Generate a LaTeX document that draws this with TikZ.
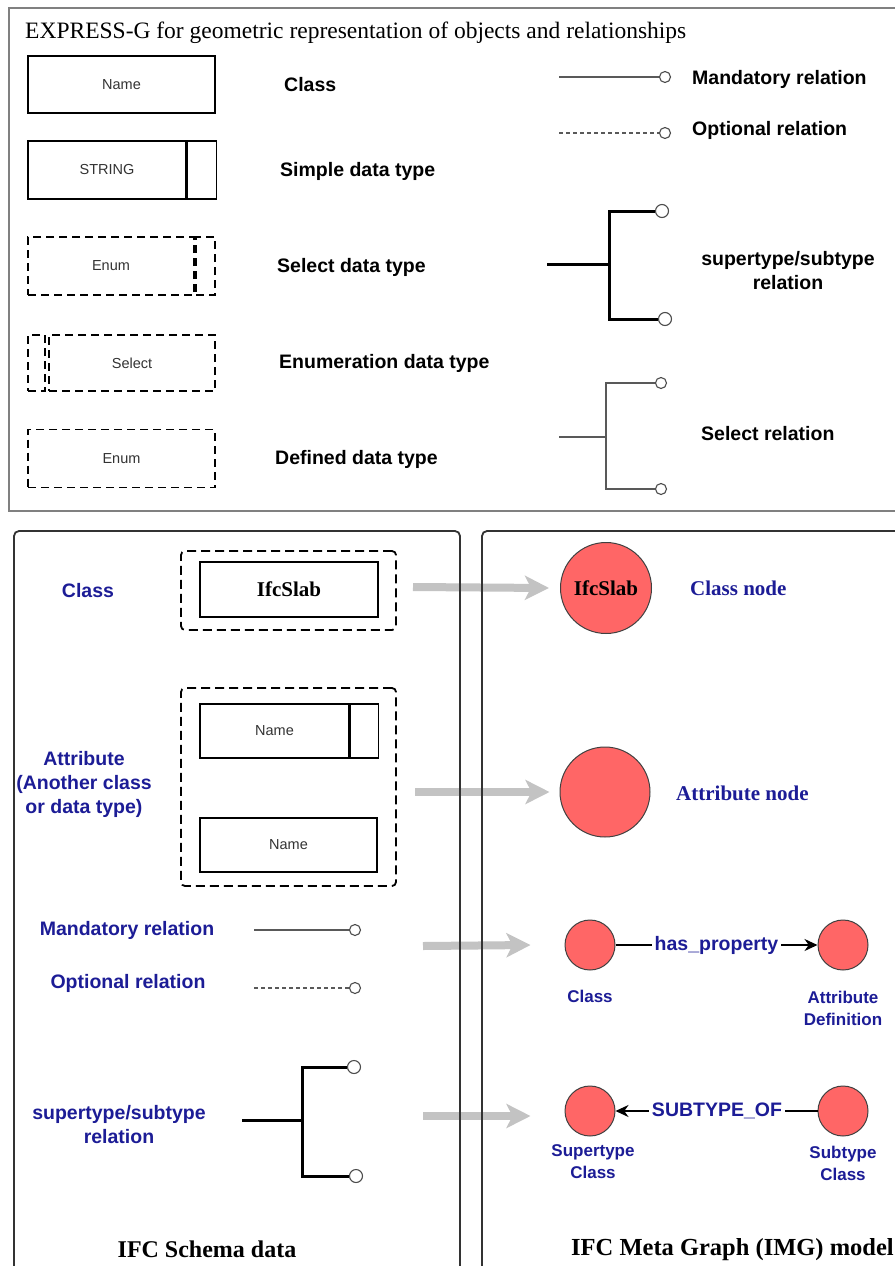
\documentclass[tikz,border=0pt]{standalone}
\usepackage{fontspec}
\setmainfont{Liberation Serif}
\newfontfamily\arialfont{Liberation Sans}
\usetikzlibrary{arrows.meta}
\definecolor{navyblue}{HTML}{1C1C96}
\definecolor{nodered}{HTML}{FF6666}
\definecolor{arrowgray}{HTML}{C3C3C3}

\begin{document}
\begin{tikzpicture}
  [x=1pt,y=-1pt,every node/.style={inner sep=0pt},
   sbox/.style={draw,line width=1.6pt,font=\arialfont\fontsize{14.5}{17}\selectfont,text=black!80},
   dbox/.style={sbox,dash pattern=on 8pt off 5pt},
   grp/.style={draw,line width=1.8pt,dash pattern=on 9pt off 5pt,rounded corners=4pt},
   legend/.style={font=\arialfont\bfseries\fontsize{19.5}{24}\selectfont,align=center},
   bluelabel/.style={legend,text=navyblue},
   nodelabel/.style={font=\arialfont\bfseries\fontsize{17}{22}\selectfont,align=center,text=navyblue},
   serif/.style={font=\bfseries\fontsize{21}{25}\selectfont,text=black},
   ring/.style={circle,draw=black!70,fill=white,line width=1.1pt,minimum size=11pt},
   bigring/.style={ring,minimum size=13pt},
   thin/.style={draw=black!65,line width=1.2pt},
   bar/.style={draw=black,line width=3pt},
   gnode/.style={circle,draw=black!75,fill=nodered,line width=1pt},
   feed/.style={draw=arrowgray,line width=8pt,-{Stealth[length=24pt,width=24pt,inset=6pt]}},
   link/.style={draw=black,line width=1.6pt},
   frame/.style={draw=black!80,line width=1.8pt,rounded corners=5pt}]
  \useasboundingbox (0,0) rectangle (894,1266);
  \fill[white] (0,0) rectangle (894,1266);

  % EXPRESS-G legend
  \node[anchor=base west,font=\fontsize{23.5}{27}\selectfont] (title) at (25,38)
    {EXPRESS-G for geometric representation of objects and relationships};
  \node[sbox,minimum width=187pt,minimum height=57pt] (cname) at (121.5,84.5) {Name};
  \node[sbox,minimum width=158pt,minimum height=58pt] (str) at (107,170) {STRING};
  \node[sbox,minimum width=29pt,minimum height=58pt,anchor=west] (strx) at (str.east) {};
  \node[dbox,minimum width=166pt,minimum height=58pt] (enum) at (111,266) {Enum};
  \node[dbox,minimum width=19pt,minimum height=58pt] (enumx) at (205.5,266) {};
  \node[dbox,minimum width=17pt,minimum height=56pt] (selx) at (36.5,363) {};
  \node[dbox,minimum width=166pt,minimum height=56pt] (sel) at (132,363) {Select};
  \node[dbox,minimum width=187pt,minimum height=58pt] (defd) at (121.5,458.5) {Enum};

  \node[legend,anchor=west] (lcls) at (284,85) {Class};
  \node[legend,anchor=west] (lsimple) at (280,171) {Simple data type};
  \node[legend,anchor=west] (lselect) at (277,267) {Select data type};
  \node[legend,anchor=west] (lenum) at (279,363) {Enumeration data type};
  \node[legend,anchor=west] (ldef) at (275,459) {Defined data type};

  \coordinate (mand) at (559,77);
  \node[ring] (mandr) at (665,77) {};
  \draw[thin] (mand) -- (mandr);
  \coordinate (opt) at (559,133);
  \node[ring] (optr) at (665,133) {};
  \draw[thin,dash pattern=on 4pt off 3pt] (opt) -- (optr);
  \node[legend,anchor=west] (lmand) at (692,79) {Mandatory relation};
  \node[legend,anchor=west] (lopt) at (692,130) {Optional relation};

  \coordinate (sst) at (547,264);
  \coordinate (ssj) at (609,264);
  \node[bigring] (ssa) at (662,211) {};
  \node[bigring] (ssb) at (665,319) {};
  \draw[bar] (sst) -- (ssj);
  \draw[bar] (ssa) -| (ssj) |- (ssb);
  \node[legend] (lsup) at (788,270.5) {supertype/subtype\\relation};

  \coordinate (slt) at (559,437);
  \coordinate (slj) at (606,437);
  \node[ring] (sla) at (661,383) {};
  \node[ring] (slb) at (661,489) {};
  \draw[thin] (slt) -- (slj);
  \draw[thin] (sla) -| (slj) |- (slb);
  \node[legend,anchor=west] (lsel) at (701,434) {Select relation};

  \draw[line width=1.5pt,draw=black!50] (905,8) -- (9,8) -- (9,511) -- (905,511);

  % IFC schema side
  \node[bluelabel] (bcls) at (88,591) {Class};
  \node[grp,minimum width=215pt,minimum height=79pt] (clsgrp) at (288.5,590.5) {};
  \node[sbox,serif,minimum width=178pt,minimum height=55pt] (slabbox) at (289,589.5) {IfcSlab};

  \node[bluelabel] (battr) at (84,784) {Attribute\\(Another class\\or data type)};
  \node[grp,minimum width=215pt,minimum height=198pt] (attgrp) at (288.5,787) {};
  \node[sbox,minimum width=149pt,minimum height=54pt] (anm) at (274.5,731) {Name};
  \node[sbox,minimum width=28pt,minimum height=54pt,anchor=west] (anmx) at (anm.east) {};
  \node[sbox,minimum width=177pt,minimum height=54pt] (bnm) at (288.5,845) {Name};

  \node[bluelabel] (bmand) at (127,930) {Mandatory relation};
  \coordinate (bm) at (254,930);
  \node[ring] (bmr) at (355,930) {};
  \draw[thin] (bm) -- (bmr);
  \node[bluelabel] (bopt) at (128,983) {Optional relation};
  \coordinate (bo) at (254,988);
  \node[ring] (bor) at (355,988) {};
  \draw[thin,dash pattern=on 4pt off 3pt] (bo) -- (bor);

  \node[bluelabel] (bsup) at (119,1125) {supertype/subtype\\relation};
  \coordinate (bst) at (242,1120);
  \coordinate (bsj) at (302,1120);
  \node[bigring] (bsa) at (354,1067) {};
  \node[bigring] (bsb) at (356,1176) {};
  \draw[bar] (bst) -- (bsj);
  \draw[bar] (bsa) -| (bsj) |- (bsb);

  \node[font=\bfseries\fontsize{24}{28}\selectfont] (schema) at (207,1249) {IFC Schema data};

  % IMG side
  \node[gnode,serif,minimum size=91pt] (slab) at (606,588) {IfcSlab};
  \node[serif,text=navyblue,anchor=west] (lslab) at (690,588) {Class node};
  \node[gnode,minimum size=90pt] (attn) at (605,792) {};
  \node[serif,text=navyblue,anchor=west] (lattn) at (676,793) {Attribute node};

  \node[gnode,minimum size=50pt] (clsn) at (590,945) {};
  \node[gnode,minimum size=50pt] (adn) at (843,945) {};
  \node[bluelabel,inner sep=3pt] (hasp) at (716.5,945) {has\_property};
  \draw[link] (clsn) -- (hasp);
  \draw[link,-{Stealth[length=13pt,width=12pt]}] (hasp) -- (adn);
  \node[nodelabel] (lclsn) at (590,996) {Class};
  \node[nodelabel] (ladn) at (843,1008) {Attribute\\Definition};

  \node[gnode,minimum size=50pt] (supn) at (590,1111) {};
  \node[gnode,minimum size=50pt] (subn) at (843,1111) {};
  \node[bluelabel,inner sep=3pt] (subof) at (717,1111) {SUBTYPE\_OF};
  \draw[link] (subn) -- (subof);
  \draw[link,-{Stealth[length=13pt,width=12pt]}] (subof) -- (supn);
  \node[nodelabel] (lsupn) at (593,1162) {Supertype\\Class};
  \node[nodelabel] (lsubn) at (843,1163) {Subtype\\Class};

  \node[font=\bfseries\fontsize{24.5}{28}\selectfont,anchor=west] (img) at (571,1250) {IFC Meta Graph (IMG) model};

  % mapping arrows
  \coordinate (f1) at (413,587);
  \coordinate (f2) at (415,792);
  \coordinate (f3) at (423,946);
  \coordinate (f4) at (423,1116);
  \draw[feed] (f1) -- ([xshift=-11pt]slab.west);
  \draw[feed] (f2) -- ([xshift=-10pt]attn.west);
  \draw[feed] (f3) -- ([xshift=-34pt]clsn.west);
  \draw[feed] (f4) -- ([xshift=-34pt,yshift=-5pt]supn.west);

  \draw[frame] (14,1280) -- (14,531) -- (460,531) -- (460,1280);
  \draw[frame] (482,1280) -- (482,531) -- (910,531);
\end{tikzpicture}
\end{document}
